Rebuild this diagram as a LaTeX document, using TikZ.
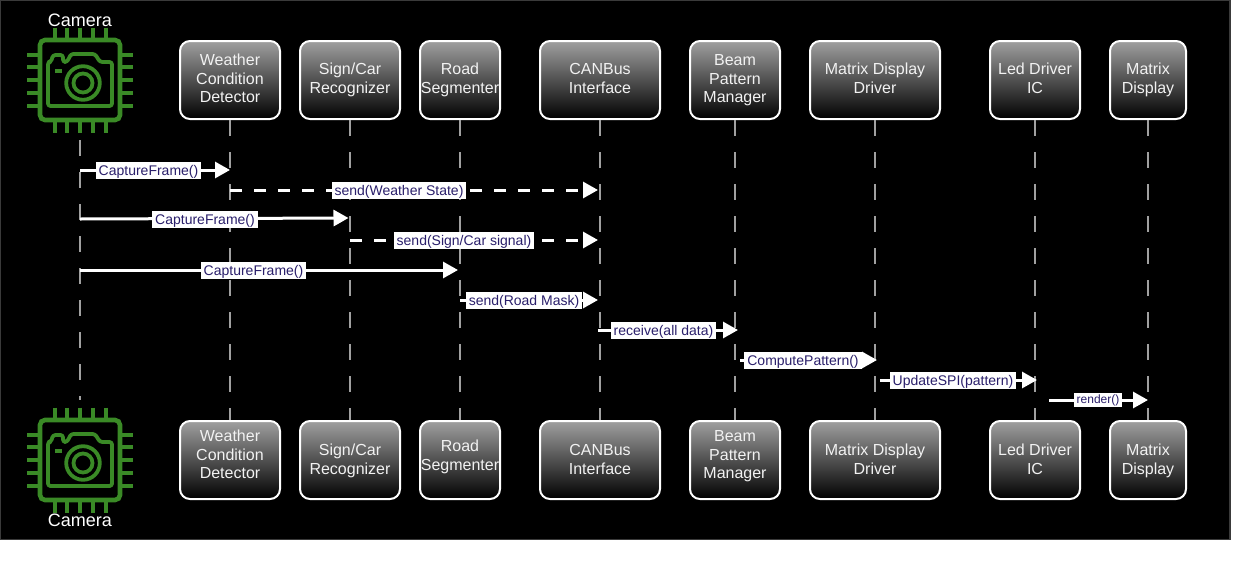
\documentclass[tikz,border=0pt]{standalone}
\usepackage{fontspec}
\setmainfont{Liberation Sans}
\usetikzlibrary{arrows.meta}
\definecolor{chipgreen}{HTML}{3A8A26}
\definecolor{msgtext}{HTML}{2A1F6B}
\definecolor{lifegray}{HTML}{A0A0A0}
\definecolor{frame}{HTML}{3A3A3A}
\tikzset{
  x=1pt,y=-1pt,
  boxnode/.style={draw=white,line width=2pt,rounded corners=10pt,top color=lifegray,bottom color=black,inner sep=0pt},
  boxtext/.style={text=white!95!black,align=center,inner sep=0pt,font=\fontsize{16}{18.5}\selectfont},
  camlabel/.style={text=white,inner sep=0pt,font=\fontsize{18}{20}\selectfont},
  lifeline/.style={draw=lifegray,line width=1.5pt,dash pattern=on 16pt off 16pt},
  msg/.style={draw=white,line width=3pt,-{Triangle[length=15pt,width=16pt,fill=white]}},
  msgdash/.style={msg,dash pattern=on 12pt off 12pt},
  lbl/.style={fill=white,text=msgtext,inner xsep=3pt,inner ysep=0pt,minimum height=17pt,text height=13.5pt,text depth=3.5pt,font=\fontsize{14}{16}\selectfont},
  lblsmall/.style={lbl,minimum height=14pt,text height=10pt,text depth=3pt,font=\fontsize{12}{14}\selectfont},
  chipline/.style={draw=chipgreen,line width=4.6pt},
  pinline/.style={draw=chipgreen,line width=4pt},
  camline/.style={draw=chipgreen,line width=3.8pt,line join=round,rounded corners=2.5pt},
  chip/.pic={
    \draw[chipline,rounded corners=5pt] (-40,-40) rectangle (40,40);
    \foreach \p in {-25.5,-12.7,0,12.7,25.5}{
      \draw[pinline] (\p,-52.5) -- (\p,-41);
      \draw[pinline] (\p,41) -- (\p,52.5);
      \draw[pinline] (-53,\p) -- (-41,\p);
      \draw[pinline] (41,\p) -- (53,\p);
    }
    \draw[camline] (-32,-18) -- (-32,26) -- (32,26) -- (32,-18) -- (20,-18) -- (15,-26) -- (-9,-26) -- (-13,-18) -- (-17,-18) -- (-17,-25) -- (-27,-25) -- (-29,-18) -- cycle;
    \draw[chipline,line width=3.8pt] (3,3) circle (16.8);
    \draw[chipline,line width=3.8pt] (3,3) circle (9.5);
    \draw[chipline,line width=3.2pt] (-25,-9) -- (-18,-9);
  }
}
\newcommand{\lifebox}[7]{% top name, bottom name, cx, width, text, top shift, bottom shift
  \node[boxnode,minimum width=#4pt,minimum height=78pt] (#1) at (#3,80) {};
  \node[boxtext] (#1t) at ([yshift=#6pt]#1.center) {\strut #5\strut};
  \node[boxnode,minimum width=#4pt,minimum height=78pt] (#2) at (#3,460) {};
  \node[boxtext] (#2t) at ([yshift=#7pt]#2.center) {\strut #5\strut};
  \draw[lifeline] (#1.south) -- (#2.north);
}
\begin{document}
\begin{tikzpicture}
\useasboundingbox (0,0) rectangle (1250,560);
\fill[white] (0,0) rectangle (1250,560);
\draw[frame,line width=1.5pt,fill=black] (0.5,0.5) rectangle (1230,539.5);

% camera lifeline
\coordinate (camA) at (80,140);
\coordinate (camB) at (80,400);
\draw[lifeline] (camA) -- (camB);

% camera icons
\pic at (80,80) {chip};
\pic at (80,460) {chip};
\node[camlabel] (camT) at (80,20) {Camera};
\node[camlabel] (camD) at (80,520) {Camera};

% participants
\lifebox{wT}{wB}{230}{100}{Weather\\Condition\\Detector}{-0.5}{3.5}
\lifebox{sT}{sB}{350}{100}{Sign/Car\\Recognizer}{-0.5}{-1.5}
\lifebox{rT}{rB}{460}{80}{Road\\Segmenter}{-0.5}{2.5}
\lifebox{cT}{cB}{600}{120}{CANBus\\Interface}{-0.5}{-1.5}
\lifebox{bT}{bB}{735}{90}{Beam\\Pattern\\Manager}{-0.5}{3.5}
\lifebox{mT}{mB}{875}{130}{Matrix Display\\Driver}{-0.5}{-1.5}
\lifebox{lT}{lB}{1035}{90}{Led Driver\\IC}{-0.5}{-1.5}
\lifebox{dT}{dB}{1148}{76}{Matrix\\Display}{-0.5}{-1.5}

% message end points
\coordinate (a1) at (80,170);    \coordinate (b1) at (230,170);
\coordinate (a2) at (230,190);   \coordinate (b2) at (598,190);
\coordinate (a3) at (80,219);    \coordinate (b3) at (348.5,218);
\coordinate (a4) at (350,240);   \coordinate (b4) at (598,240);
\coordinate (a5) at (80,270);    \coordinate (b5) at (458,270);
\coordinate (a6) at (460,300);   \coordinate (b6) at (598,300);
\coordinate (a7) at (598,330);   \coordinate (b7) at (738,330);
\coordinate (a8) at (740,360);   \coordinate (b8) at (877,360);
\coordinate (a9) at (880,380);   \coordinate (b9) at (1037,380);
\coordinate (a10) at (1049,400); \coordinate (b10) at (1148,400);

\draw[msg] (a1) -- (b1);
\draw[msgdash] (a2) -- (b2);
\draw[msg] (a3) -- (b3);
\draw[msgdash] (a4) -- (b4);
\draw[msg] (a5) -- (b5);
\draw[msg] (a6) -- (b6);
\draw[msg] (a7) -- (b7);
\draw[msg] (a8) -- (b8);
\draw[msg] (a9) -- (b9);
\draw[msg] (a10) -- (b10);

\node[lbl] (l1) at (148.5,170) {CaptureFrame()};
\node[lbl] (l2) at (399,190) {send(Weather State)};
\node[lbl] (l3) at (205,219) {CaptureFrame()};
\node[lbl] (l4) at (464,240) {send(Sign/Car signal)};
\node[lbl] (l5) at (253.5,270) {CaptureFrame()};
\node[lbl] (l6) at (524,300) {send(Road Mask)};
\node[lbl] (l7) at (663.5,330) {receive(all data)};
\node[lbl] (l8) at (803,360) {ComputePattern()};
\node[lbl] (l9) at (953,380) {UpdateSPI(pattern)};
\node[lblsmall] (l10) at (1098,400) {render()};
\end{tikzpicture}
\end{document}
